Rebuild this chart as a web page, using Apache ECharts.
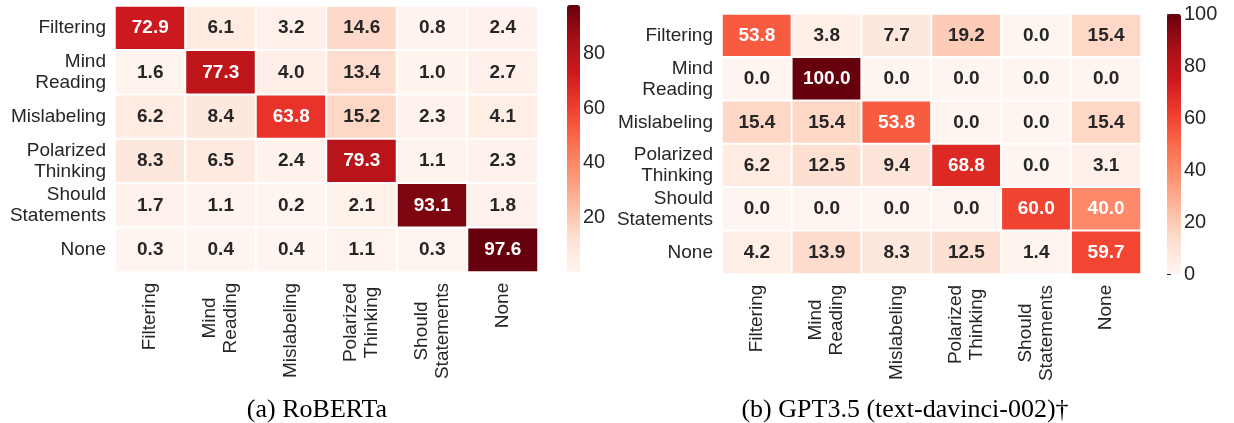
<!DOCTYPE html>
<html lang="en">
<head>
    <meta charset="UTF-8" />
    <title>confusion matrices</title>
    <script src="https://cdn.jsdelivr.net/npm/echarts@6/dist/echarts.min.js"></script>
    <style>
        html, body { margin: 0; padding: 0; background: #fff; }
    </style>
</head>
<body>
<div id="main" style="width: 1234px; height: 423px;"></div>
<script type="text/javascript">
// class labels (same for rows = true, cols = predicted)
var categories = ['Filtering', 'Mind\nReading', 'Mislabeling', 'Polarized\nThinking', 'Should\nStatements', 'None'];

// (a) RoBERTa, rows top -> bottom
var robertaValues = [
    [72.9, 6.1, 3.2, 14.6, 0.8, 2.4],
    [1.6, 77.3, 4.0, 13.4, 1.0, 2.7],
    [6.2, 8.4, 63.8, 15.2, 2.3, 4.1],
    [8.3, 6.5, 2.4, 79.3, 1.1, 2.3],
    [1.7, 1.1, 0.2, 2.1, 93.1, 1.8],
    [0.3, 0.4, 0.4, 1.1, 0.3, 97.6]
];

// (b) GPT3.5
var gptValues = [
    [53.8, 3.8, 7.7, 19.2, 0.0, 15.4],
    [0.0, 100.0, 0.0, 0.0, 0.0, 0.0],
    [15.4, 15.4, 53.8, 0.0, 0.0, 15.4],
    [6.2, 12.5, 9.4, 68.8, 0.0, 3.1],
    [0.0, 0.0, 0.0, 0.0, 60.0, 40.0],
    [4.2, 13.9, 8.3, 12.5, 1.4, 59.7]
];

var robertaRange = [0.2, 97.6];
var gptRange = [0, 100];
var robertaTicks = [20, 40, 60, 80];
var gptTicks = [0, 20, 40, 60, 80, 100];

var captions = ['(a) RoBERTa', '(b) GPT3.5 (text-davinci-002)\u2020'];

// matplotlib "Reds"
var reds = ['#fff5f0', '#fee0d2', '#fcbba1', '#fc9272', '#fb6a4a', '#ef3b2c', '#cb181d', '#a50f15', '#67000d'];

var sans = '"Liberation Sans", Arial, sans-serif';
var ink = '#262626';

function buildData(rows, range) {
    var out = [];
    for (var r = 0; r < rows.length; r++) {
        for (var c = 0; c < rows[r].length; c++) {
            var v = rows[r][c];
            var t = (v - range[0]) / (range[1] - range[0]);
            out.push({
                value: [c, r, v],
                label: { color: t > 0.35 ? '#ffffff' : ink }
            });
        }
    }
    return out;
}

// rotated x labels: keep lines centred on each other, block ends at the axis
var ctx = document.createElement('canvas').getContext('2d');
ctx.font = '19px ' + sans;
var xRich = {};
categories.forEach(function (cat, i) {
    var w = 0;
    cat.split('\n').forEach(function (s) { w = Math.max(w, ctx.measureText(s).width); });
    xRich['c' + i] = { width: Math.ceil(w) + 1, align: 'center', fontSize: 19, lineHeight: 21, fontFamily: sans, color: ink };
});
function xFmt(val, idx) {
    return val.split('\n').map(function (s) { return '{c' + idx + '|' + s + '}'; }).join('\n');
}

function catX(gi) {
    return {
        type: 'category', gridIndex: gi, data: categories, position: 'bottom',
        axisLine: { show: false }, axisTick: { show: false }, splitArea: { show: false },
        axisLabel: { interval: 0, rotate: 90, margin: 10, formatter: xFmt, rich: xRich }
    };
}
function catY(gi) {
    return {
        type: 'category', gridIndex: gi, data: categories, inverse: true,
        axisLine: { show: false }, axisTick: { show: false }, splitArea: { show: false },
        axisLabel: { interval: 0, margin: 9, fontSize: 19, lineHeight: 21, fontFamily: sans, color: ink }
    };
}
function barX(gi) {
    return { type: 'value', gridIndex: gi, show: false };
}
function barY(gi, range, ticks, interval) {
    var ax = {
        type: 'value', gridIndex: gi, position: 'right', min: range[0], max: range[1],
        axisLine: { show: false }, splitLine: { show: false },
        axisTick: { show: true, length: 4, lineStyle: { color: ink, width: 1 } },
        axisLabel: { margin: 3, fontSize: 20, fontFamily: sans, color: ink }
    };
    if (interval) {
        ax.interval = interval;
    } else {
        ax.axisTick.customValues = ticks;
        ax.axisLabel.customValues = ticks;
    }
    return ax;
}

function heat(gi, rows, range) {
    return {
        type: 'heatmap', xAxisIndex: gi, yAxisIndex: gi,
        data: buildData(rows, range),
        itemStyle: { borderColor: '#ffffff', borderWidth: 2 },
        label: {
            show: true, fontSize: 19, fontWeight: 'bold', fontFamily: sans,
            formatter: function (p) { return p.value[2].toFixed(1); }
        },
        emphasis: { disabled: true }
    };
}

var myChart = echarts.init(document.getElementById('main'), null, { renderer: 'canvas' });

var option = {
    animation: false,
    backgroundColor: '#ffffff',
    grid: [
        { left: 115, top: 6, width: 423, height: 266 },
        { left: 722, top: 14, width: 419, height: 260 },
        { left: 567, top: 5, width: 13, height: 267 },
        { left: 1167, top: 14, width: 14, height: 260 }
    ],
    xAxis: [catX(0), catX(1), barX(2), barX(3)],
    yAxis: [catY(0), catY(1), barY(2, robertaRange, robertaTicks), barY(3, gptRange, gptTicks, 20)],
    visualMap: [
        {
            type: 'continuous', seriesIndex: 0, min: robertaRange[0], max: robertaRange[1],
            calculable: false, text: null, showLabel: false, padding: 0,
            left: 567, top: 5, itemWidth: 13, itemHeight: 267,
            inRange: { color: reds }
        },
        {
            type: 'continuous', seriesIndex: 1, min: gptRange[0], max: gptRange[1],
            calculable: false, text: null, showLabel: false, padding: 0,
            left: 1167, top: 14, itemWidth: 14, itemHeight: 260,
            inRange: { color: reds }
        }
    ],
    graphic: [
        { type: 'text', x: 317, y: 410, style: { text: captions[0], font: '26px "Liberation Serif", serif', fill: '#000', align: 'center', verticalAlign: 'middle' } },
        { type: 'text', x: 905, y: 410, style: { text: captions[1], font: '26px "Liberation Serif", serif', fill: '#000', align: 'center', verticalAlign: 'middle' } }
    ],
    series: [
        heat(0, robertaValues, robertaRange),
        heat(1, gptValues, gptRange)
    ]
};

myChart.setOption(option);
</script>
</body>
</html>
